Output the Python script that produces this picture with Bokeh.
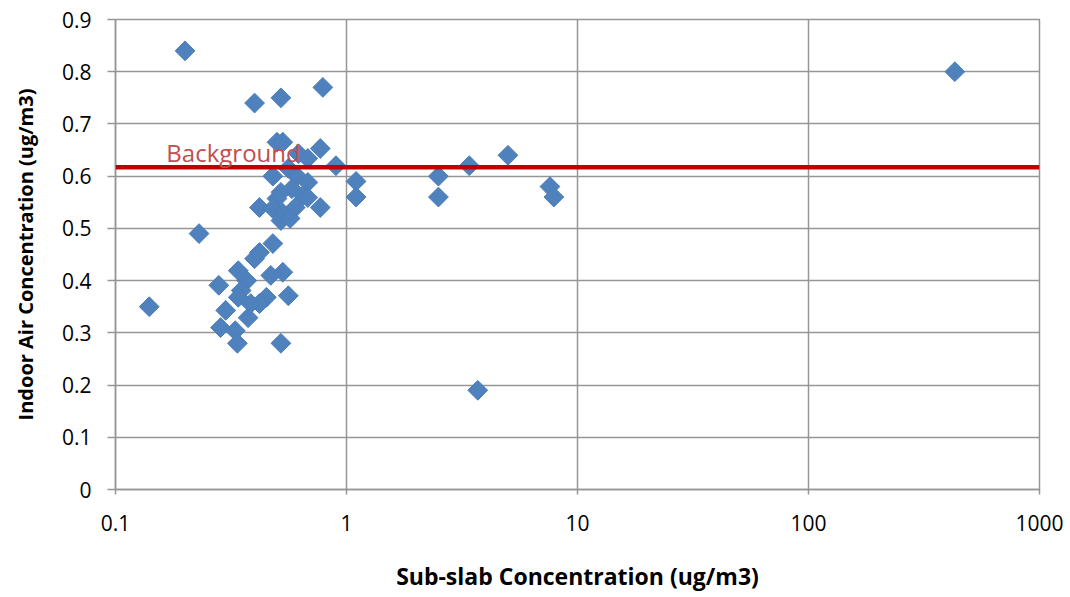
import numpy as np
from bokeh.plotting import figure
from bokeh.models import FixedTicker, Span, Label, CustomJSTickFormatter
from bokeh.embed import file_html
from bokeh.resources import INLINE

# Sub-slab (x) vs indoor air (y) concentrations, ug/m3
sub_slab = [0.14, 0.20, 0.23, 0.40, 0.52, 0.79,
            0.50, 0.53, 0.77, 0.90, 0.62, 0.68, 0.48, 0.56, 0.61, 0.68,
            0.52, 0.58, 0.65, 0.50, 0.42, 0.48, 0.53, 0.60, 0.77, 0.52,
            0.57, 0.68,
            0.48, 0.42, 0.40, 0.34, 0.53, 0.47, 0.28, 0.37, 0.35, 0.56,
            0.45, 0.42, 0.34, 0.30, 0.375, 0.285, 0.33, 0.337, 0.52, 0.385,
            1.1, 1.1, 2.5, 2.5, 3.4, 5.0, 3.7, 7.6, 7.9, 430]
indoor_air = [0.35, 0.84, 0.49, 0.74, 0.75, 0.77,
              0.665, 0.665, 0.653, 0.62, 0.643, 0.634, 0.60, 0.615, 0.60, 0.588,
              0.569, 0.576, 0.563, 0.557, 0.54, 0.538, 0.529, 0.54, 0.54, 0.515,
              0.519, 0.559,
              0.471, 0.454, 0.442, 0.419, 0.416, 0.41, 0.391, 0.40, 0.381, 0.371,
              0.368, 0.356, 0.368, 0.343, 0.329, 0.31, 0.304, 0.28, 0.28, 0.356,
              0.59, 0.56, 0.60, 0.56, 0.62, 0.64, 0.19, 0.58, 0.56, 0.80]

background = 0.617
background_label = "Background"
x_ticks = [0.1, 1, 10, 100, 1000]
y_ticks = [0, 0.1, 0.2, 0.3, 0.4, 0.5, 0.6, 0.7, 0.8, 0.9]

FONT = "Open Sans"
GRID = "#969696"

p = figure(width=1070, height=597, x_axis_type="log",
           x_range=(0.1, 1000), y_range=(0, 0.9),
           output_backend="svg", toolbar_location=None,
           min_border_left=115, min_border_right=31,
           min_border_top=19, min_border_bottom=108)
p.background_fill_color = "white"
p.border_fill_color = "white"
p.outline_line_color = GRID
p.outline_line_width = 1.5

p.scatter(sub_slab, indoor_air, marker="square", size=14, angle=np.pi / 4,
          fill_color="#4F81BD", line_color="#4A7EBB", line_width=1)

p.add_layout(Span(location=background, dimension="width",
                  line_color="#C00000", line_width=4.5))
p.add_layout(Label(x=0.166, y=background, y_offset=-2, text=background_label,
                   text_font=FONT, text_font_size="24px",
                   text_color="#C0504D", text_baseline="bottom"))

p.xaxis.ticker = FixedTicker(ticks=x_ticks, minor_ticks=[])
p.xaxis.formatter = CustomJSTickFormatter(code="return String(tick);")
p.yaxis.ticker = FixedTicker(ticks=y_ticks, minor_ticks=[])
p.yaxis.formatter = CustomJSTickFormatter(code="return String(Math.round(tick*10)/10);")

for ax in (p.xaxis, p.yaxis):
    ax.axis_line_color = GRID
    ax.axis_line_width = 1.5
    ax.major_tick_line_color = GRID
    ax.major_tick_line_width = 1.5
    ax.major_tick_in = 0
    ax.minor_tick_line_color = None
    ax.major_label_text_font = FONT
    ax.major_label_text_font_size = "21px"
    ax.major_label_text_color = "black"
    ax.axis_label_text_font = FONT
    ax.axis_label_text_font_style = "bold"
    ax.axis_label_text_color = "black"

p.xaxis.major_tick_out = 5
p.xaxis.major_label_standoff = 20
p.xaxis.axis_label = "Sub-slab Concentration (ug/m3)"
p.xaxis.axis_label_text_font_size = "23px"
p.xaxis.axis_label_standoff = 26
p.yaxis.major_tick_out = 8
p.yaxis.major_label_standoff = 16
p.yaxis.axis_label = "Indoor Air Concentration (ug/m3)"
p.yaxis.axis_label_text_font_size = "20px"
p.yaxis.axis_label_standoff = 20

for g in (p.xgrid, p.ygrid):
    g.grid_line_color = GRID
    g.grid_line_width = 1.5

open("out.html", "w").write(file_html(p, INLINE))
